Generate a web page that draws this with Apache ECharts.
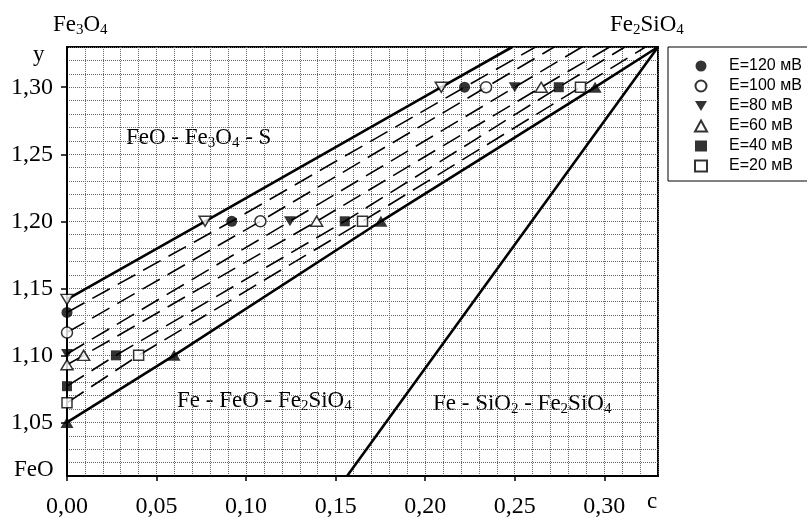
<!DOCTYPE html>
<html>
<head>
<meta charset="utf-8">
<title>Fe - FeO - Fe2SiO4</title>
<script src="https://cdn.jsdelivr.net/npm/echarts@6.0.0/dist/echarts.min.js"></script>
<style>
  html, body { margin: 0; padding: 0; background: #fff; }
  #chart { width: 807px; height: 519px; }
</style>
</head>
<body>
<div id="chart"></div>
<script>
'use strict';

// подписи осей
const xTicks = [0, 0.05, 0.10, 0.15, 0.20, 0.25, 0.30];
const yTicks = [1.05, 1.10, 1.15, 1.20, 1.25, 1.30];

const legendNames = ['E=120 мВ', 'E=100 мВ', 'E=80 мВ', 'E=60 мВ', 'E=40 мВ', 'E=20 мВ'];

// точки (c, y) для каждого E
const e120 = [[0, 1.132], [0.092, 1.20], [0.222, 1.30]];
const e100 = [[0, 1.117], [0.108, 1.20], [0.234, 1.30]];
const e80 = [[0, 1.101], [0.1245, 1.20], [0.250, 1.30]];
const e60 = [[0, 1.093], [0.0093, 1.10], [0.1394, 1.20], [0.2648, 1.30]];
const e40 = [[0, 1.077], [0.0273, 1.10], [0.1551, 1.20], [0.2746, 1.30]];
const e20 = [[0, 1.0646], [0.040, 1.10], [0.165, 1.20], [0.2867, 1.30]];

// границы области
const upperPts = [[0, 1.1417], [0.0771, 1.20], [0.209, 1.30]];
const lowerPts = [[0, 1.05], [0.0598, 1.10], [0.1753, 1.20], [0.2949, 1.30]];

// концы линий на верхней границе
const eLineEnds = [[0.2616, 1.33], [0.272, 1.33], [0.2875, 1.33], [0.303, 1.33], [0.3115, 1.33], [0.323, 1.33]];
const upperEnd = [0.2486, 1.33];
const lowerEnd = [0.33, 1.33];
const sio2Line = [[0.1564, 1.01], [0.33, 1.33]];

var chartOpts = null;

const serif = "'Liberation Serif', 'Times New Roman', serif";
const downTri = 'path://M0,0L12,0L6,10Z';
const subRich = { s: { fontSize: 15, fontFamily: serif, padding: [10, 0, 0, 0] } };

function label(x, y, text) {
    return {
        type: 'text',
        x: x,
        y: y,
        style: {
            text: text,
            fontFamily: serif,
            fontSize: 23,
            fill: '#000',
            verticalAlign: 'middle',
            rich: subRich,
        },
    };
}

function dashed(pts, end) {
    return {
        type: 'line',
        data: pts.concat([end]),
        symbol: 'none',
        silent: true,
        z: 2,
        lineStyle: { color: '#000', width: 1.6, type: [20, 9] },
    };
}

function solid(pts) {
    return {
        type: 'line',
        data: pts,
        symbol: 'none',
        silent: true,
        z: 2,
        lineStyle: { color: '#000', width: 2.6, type: 'solid' },
    };
}

function points(name, data, symbol, size, filled) {
    return {
        name: name,
        type: 'scatter',
        data: data,
        symbol: symbol,
        symbolSize: size,
        z: 4,
        itemStyle: filled
            ? { color: '#000' }
            : { color: '#fff', borderColor: '#000', borderWidth: 1.5 },
    };
}

function fmt(v) {
    return v.toFixed(2).replace('.', ',');
}

function init() {
    const el = document.getElementById('chart');
    const option = {
        animation: false,
        backgroundColor: '#fff',
        grid: {
            left: 67,
            right: 149,
            top: 47,
            bottom: 40,
            show: true,
            borderColor: '#000',
            borderWidth: 2,
        },
        legend: {
            data: legendNames,
            orient: 'vertical',
            left: 668,
            top: 47,
            padding: [11, 80, 7, 26],
            itemWidth: 12,
            itemHeight: 11,
            itemGap: 4,
            borderColor: '#000',
            borderWidth: 1,
            borderRadius: 0,
            textStyle: {
                fontFamily: "'Liberation Sans', Arial, sans-serif",
                fontSize: 16,
                color: '#000',
                padding: [0, 0, 0, 17],
            },
        },
        xAxis: [
            {
                // сетка 0,01
                type: 'value',
                min: 0,
                max: 0.33,
                interval: 0.01,
                axisLine: { show: false },
                axisTick: { show: false },
                axisLabel: { show: false },
                splitLine: { show: true, lineStyle: { color: '#666', type: 'dotted', width: 1 } },
            },
            {
                type: 'value',
                position: 'bottom',
                min: 0,
                max: 0.33,
                axisLine: { show: true, onZero: false, lineStyle: { color: '#000', width: 2 } },
                axisTick: { show: true, customValues: xTicks, length: 5, lineStyle: { color: '#000', width: 1.5 } },
                axisLabel: {
                    customValues: xTicks,
                    formatter: fmt,
                    margin: 19,
                    color: '#000',
                    fontFamily: serif,
                    fontSize: 24,
                },
                splitLine: { show: false },
            },
        ],
        yAxis: [
            {
                type: 'value',
                min: 1.01,
                max: 1.33,
                interval: 0.01,
                axisLine: { show: false },
                axisTick: { show: false },
                axisLabel: { show: false },
                splitLine: { show: true, lineStyle: { color: '#666', type: 'dotted', width: 1 } },
            },
            {
                type: 'value',
                position: 'left',
                min: 1.01,
                max: 1.33,
                axisLine: { show: true, onZero: false, lineStyle: { color: '#000', width: 2 } },
                axisTick: { show: true, customValues: yTicks, length: 6, lineStyle: { color: '#000', width: 1.5 } },
                axisLabel: {
                    customValues: yTicks,
                    formatter: fmt,
                    margin: 14,
                    color: '#000',
                    fontFamily: serif,
                    fontSize: 24,
                },
                splitLine: { show: false },
            },
        ],
        graphic: [
            label(53, 25, 'Fe{s|3}O{s|4}'),
            label(610, 25, 'Fe{s|2}SiO{s|4}'),
            label(33, 55, 'y'),
            label(14, 470, 'FeO'),
            label(647, 502, 'c'),
            label(126, 138, 'FeO - Fe{s|3}O{s|4} - S'),
            label(177, 401, 'Fe - FeO - Fe{s|2}SiO{s|4}'),
            label(433, 404, 'Fe - SiO{s|2} - Fe{s|2}SiO{s|4}'),
        ],
        series: [
            dashed(e120, eLineEnds[0]),
            dashed(e100, eLineEnds[1]),
            dashed(e80, eLineEnds[2]),
            dashed(e60, eLineEnds[3]),
            dashed(e40, eLineEnds[4]),
            dashed(e20, eLineEnds[5]),
            solid(upperPts.concat([upperEnd])),
            solid(lowerPts.concat([lowerEnd])),
            solid(sio2Line),
            points('upper', upperPts, downTri, [12, 10], false),
            points('lower', lowerPts, 'triangle', [13, 11], true),
            points(legendNames[0], e120, 'circle', 11, true),
            points(legendNames[1], e100, 'circle', 11, false),
            points(legendNames[2], e80, downTri, [12, 10], true),
            points(legendNames[3], e60, 'triangle', [12, 10], false),
            points(legendNames[4], e40, 'rect', 10, true),
            points(legendNames[5], e20, 'rect', 10, false),
        ],
    };
    chartOpts = echarts.init(el);
    chartOpts.setOption(option);
}

(function () {
    init();
})();
</script>
</body>
</html>
